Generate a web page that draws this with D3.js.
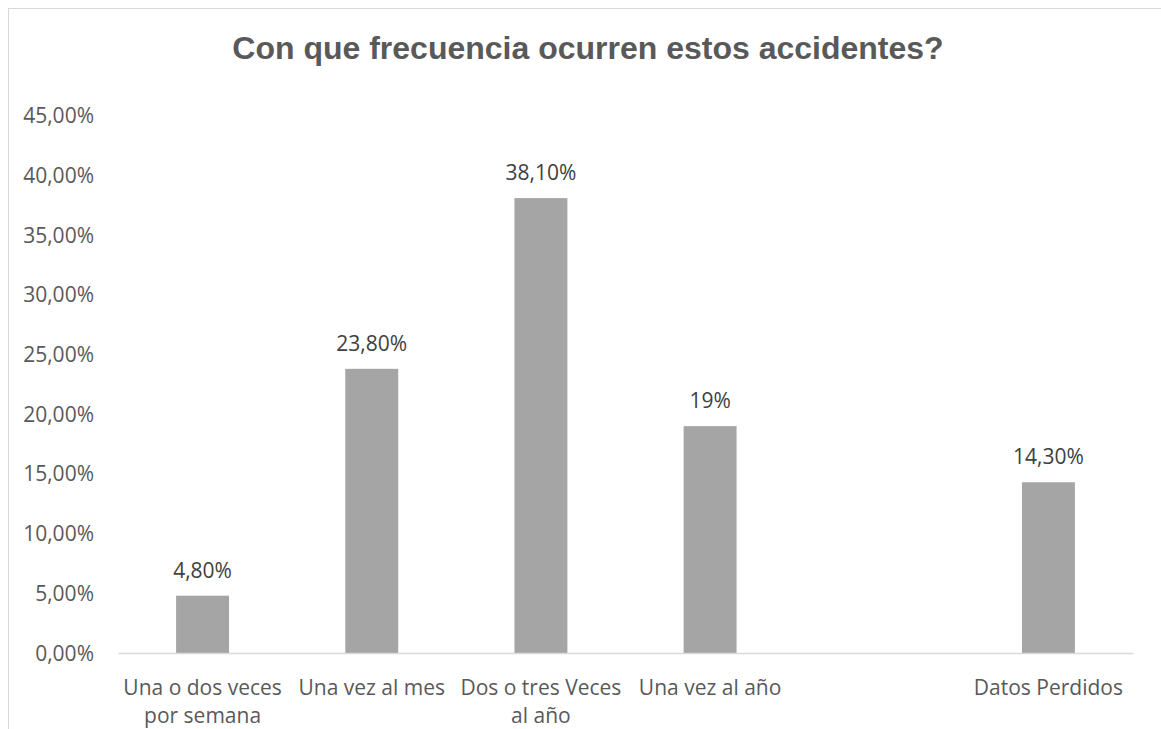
<!DOCTYPE html>
<html>
<head>
<meta charset="utf-8">
<script src="https://cdn.jsdelivr.net/npm/d3@7"></script>
<style>
html,body{margin:0;padding:0;background:#fff;}
svg{display:block;}
</style>
</head>
<body>
<svg id="chart" width="1161" height="729"></svg>
<script>
const title = "Con que frecuencia ocurren estos accidentes?";
const categories = ["Una o dos veces por semana", "Una vez al mes", "Dos o tres Veces al año", "Una vez al año", "", "Datos Perdidos"];
const values = [0.048, 0.238, 0.381, 0.19, null, 0.143];
const valueLabels = ["4,80%", "23,80%", "38,10%", "19%", "", "14,30%"];
const yTicks = [0, 0.05, 0.10, 0.15, 0.20, 0.25, 0.30, 0.35, 0.40, 0.45];

(function () {
const svg = d3.select("#chart");
const textColor = "#595959";
const font = "'Open Sans', sans-serif";

// chart border
svg.append("rect").attr("x", 8.5).attr("y", 8.5).attr("width", 1170).attr("height", 760)
  .attr("fill", "#fff").attr("stroke", "#d9d9d9").attr("stroke-width", 1);

svg.append("text").attr("x", 588).attr("y", 58.5).attr("text-anchor", "middle")
  .attr("font-family", "'Liberation Sans', Arial, sans-serif").attr("font-weight", "bold")
  .attr("font-size", 32).attr("fill", textColor).text(title);

const mLeft = 118, mRight = 1133, mTop = 115.7, mBottom = 653;
const x = d3.scaleBand().domain(d3.range(categories.length)).range([mLeft, mRight]).paddingInner(0.687).paddingOuter(0.3435);
const y = d3.scaleLinear().domain([0, 0.45]).range([mBottom, mTop]);

const fmt = v => d3.format(".2f")(v * 100).replace(".", ",") + "%";

// y tick labels
svg.append("g").selectAll("text").data(yTicks).join("text")
  .attr("x", 94).attr("y", d => y(d)).attr("dy", "0.36em")
  .attr("text-anchor", "end").attr("font-family", font).attr("font-size", 21)
  .attr("fill", textColor).text(fmt);

// bars
const idx = d3.range(categories.length).filter(i => values[i] != null);
svg.append("g").selectAll("rect").data(idx).join("rect")
  .attr("x", i => x(i)).attr("width", x.bandwidth())
  .attr("y", i => y(values[i])).attr("height", i => y(0) - y(values[i]))
  .attr("fill", "#a5a5a5");

// x axis line
const xAxis = d3.axisBottom(x).tickSize(0).tickFormat("");
const gx = svg.append("g").attr("transform", `translate(0,${mBottom})`).call(xAxis);
gx.select(".domain").attr("stroke", "#d9d9d9").attr("stroke-width", 1.5);

// category labels
const band = (mRight - mLeft) / categories.length;
svg.append("g").selectAll("text").data(d3.range(categories.length)).join("text")
  .attr("font-family", font).attr("font-size", 21).attr("fill", textColor)
  .attr("text-anchor", "middle")
  .each(function(i) {
    const t = d3.select(this);
    const cx = x(i) + x.bandwidth() / 2;
    const words = categories[i].split(" ");
    let lines = [], cur = "";
    const tmp = t.append("tspan");
    words.forEach(w => {
      const test = cur ? cur + " " + w : w;
      tmp.text(test);
      if (tmp.node().getComputedTextLength() > band - 4 && cur) { lines.push(cur); cur = w; }
      else cur = test;
    });
    if (cur) lines.push(cur);
    tmp.remove();
    lines.forEach((l, k) => {
      t.append("tspan").attr("x", cx).attr("y", 695 + k * 28).text(l);
    });
  });

// data labels
svg.append("g").selectAll("text").data(idx).join("text")
  .attr("x", i => x(i) + x.bandwidth() / 2).attr("y", i => y(values[i]) - 18)
  .attr("text-anchor", "middle").attr("font-family", font).attr("font-size", 21)
  .attr("fill", "#404040").text(i => valueLabels[i]);
})();
</script>
</body>
</html>
